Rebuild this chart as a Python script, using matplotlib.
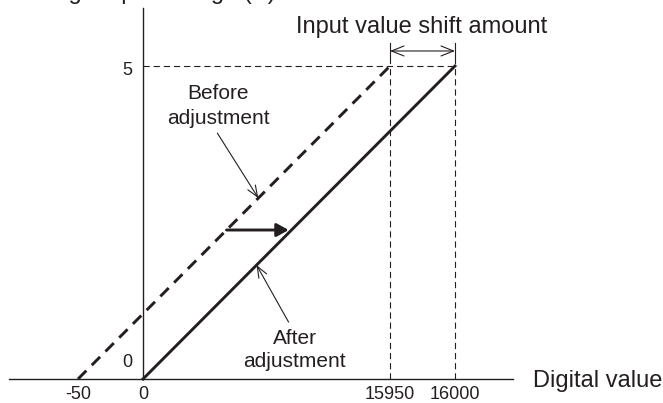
import numpy as np
import matplotlib
matplotlib.use("Agg")
import matplotlib.pyplot as plt

plt.rcParams['font.family'] = ['Liberation Sans', 'DejaVu Sans']
plt.rcParams['lines.scale_dashes'] = False

# digital value (x) vs analog output voltage (y)
before_x = [-50, 15950]
before_y = [0, 5]
after_x = [0, 16000]
after_y = [0, 5]
x_ticks = [-50, 0, 15950, 16000]
x_tick_labels = ['-50', '0', '15950', '16000']
y_ticks = [0, 5]
y_tick_labels = ['0', '5']
shift_v = 2.38          # voltage at which the shift arrow is drawn
before_note_v = 2.89    # where the "Before" pointer touches its line
after_note_v = 1.82     # where the "After" pointer touches its line

ink = '#231f20'

# x axis is not to scale: each tick sits on a fixed schematic position
knots_x = np.array(x_ticks, dtype=float)
knots_u = np.array([-1.0, 0.0, 3.8, 4.8])


def piecewise(x, xs, us):
    x = np.asarray(x, dtype=float)
    mid = np.interp(x, xs, us)
    left = us[0] + (x - xs[0]) * (us[1] - us[0]) / (xs[1] - xs[0])
    right = us[-1] + (x - xs[-1]) * (us[-1] - us[-2]) / (xs[-1] - xs[-2])
    return np.where(x < xs[0], left, np.where(x > xs[-1], right, mid))


def fwd(x):
    return piecewise(x, knots_x, knots_u)


def inv(u):
    return piecewise(u, knots_u, knots_x)


def on_line(xs, ys, v):
    # x on a straight (on screen) segment at voltage v
    t = (v - ys[0]) / (ys[1] - ys[0])
    u0, u1 = fwd(xs[0]), fwd(xs[1])
    return float(inv(u0 + t * (u1 - u0)))


fig = plt.figure(figsize=(6.63, 4.03), dpi=100)
ax = fig.add_axes([0, 0, 1, 1])
ax.set_xscale('function', functions=(fwd, inv))
ax.set_xlim(float(inv(-143 / 65)), float(inv(520 / 65)))
ax.set_ylim(-24 / 62.6, 379 / 62.6)
ax.axis('off')

# axes lines
ax.axhline(0, xmin=9 / 663, xmax=513 / 663, color=ink, lw=1.0)
ax.axvline(0, ymin=24 / 403, ymax=395 / 403, color=ink, lw=1.0)

# guide lines
thin_dash = (0, (4.5, 2.8))
ax.plot([0, after_x[1]], [5, 5], color=ink, lw=0.8, ls=thin_dash)
for xv in (before_x[1], after_x[1]):
    ax.plot([xv, xv], [0, 5], color=ink, lw=0.8, ls=thin_dash)
    ax.plot([xv, xv], [5.04, 5.37], color=ink, lw=0.8)

# conversion characteristics
ax.plot(before_x, before_y, color=ink, lw=2.1, ls=(0, (8.5, 5.5)))
ax.plot(after_x, after_y, color=ink, lw=2.1)

# shift amount dimension
ax.annotate('', xy=(after_x[1], 5.24), xytext=(before_x[1], 5.24),
            arrowprops=dict(arrowstyle='<->, head_length=1.0, head_width=0.4',
                            color=ink, lw=0.8, shrinkA=0, shrinkB=0,
                            mutation_scale=9))
ax.annotate('Input value shift amount', xy=(before_x[1], 5.24),
            xytext=(32, 18), textcoords='offset pixels',
            ha='center', va='baseline', fontsize=17, color=ink)

# horizontal shift arrow
ax.annotate('', xy=(on_line(after_x, after_y, shift_v), shift_v),
            xytext=(on_line(before_x, before_y, shift_v), shift_v),
            arrowprops=dict(arrowstyle='-|>, head_length=0.4, head_width=0.22',
                            color=ink, lw=2.1, shrinkA=0, shrinkB=2,
                            mutation_scale=18))

# pointers to each line
pointer = dict(arrowstyle='->, head_length=1.0, head_width=0.4', color=ink,
               lw=0.8, shrinkA=0, shrinkB=0, mutation_scale=8)
tip_b = (on_line(before_x, before_y, before_note_v), before_note_v)
ax.annotate('', xy=tip_b, xytext=(-41, 65), textcoords='offset pixels',
            arrowprops=pointer)
ax.annotate('Before\nadjustment', xy=tip_b, xytext=(-40, 92),
            textcoords='offset pixels', ha='center', va='center',
            fontsize=15, color=ink, linespacing=1.35)

tip_a = (on_line(after_x, after_y, after_note_v), after_note_v)
ax.annotate('', xy=tip_a, xytext=(32, -57), textcoords='offset pixels',
            arrowprops=pointer)
ax.annotate('After\nadjustment', xy=tip_a, xytext=(38, -85),
            textcoords='offset pixels', ha='center', va='center',
            fontsize=15, color=ink, linespacing=1.3)

# tick labels
for xv, lab in zip(x_ticks, x_tick_labels):
    ax.annotate(lab, xy=(xv, 0), xytext=(0, -7), textcoords='offset pixels',
                ha='center', va='top', fontsize=13, color=ink)
ax.annotate(y_tick_labels[1], xy=(0, y_ticks[1]), xytext=(-11, -9),
            textcoords='offset pixels', ha='right', va='baseline',
            fontsize=13, color=ink)
ax.annotate(y_tick_labels[0], xy=(0, y_ticks[0]), xytext=(-11, 12),
            textcoords='offset pixels', ha='right', va='baseline',
            fontsize=13, color=ink)

# axis titles
ax.annotate('Digital value', xy=(513 / 663, 0), xycoords=('axes fraction', 'data'),
            xytext=(20, -8), textcoords='offset pixels',
            ha='left', va='baseline', fontsize=17, color=ink)
fig.text(7.5 / 663, 1 + 1 / 403, 'Analog output voltage (V)',
         ha='left', va='baseline', fontsize=17, color=ink)

fig.savefig('out.png', dpi=100, facecolor='white')
